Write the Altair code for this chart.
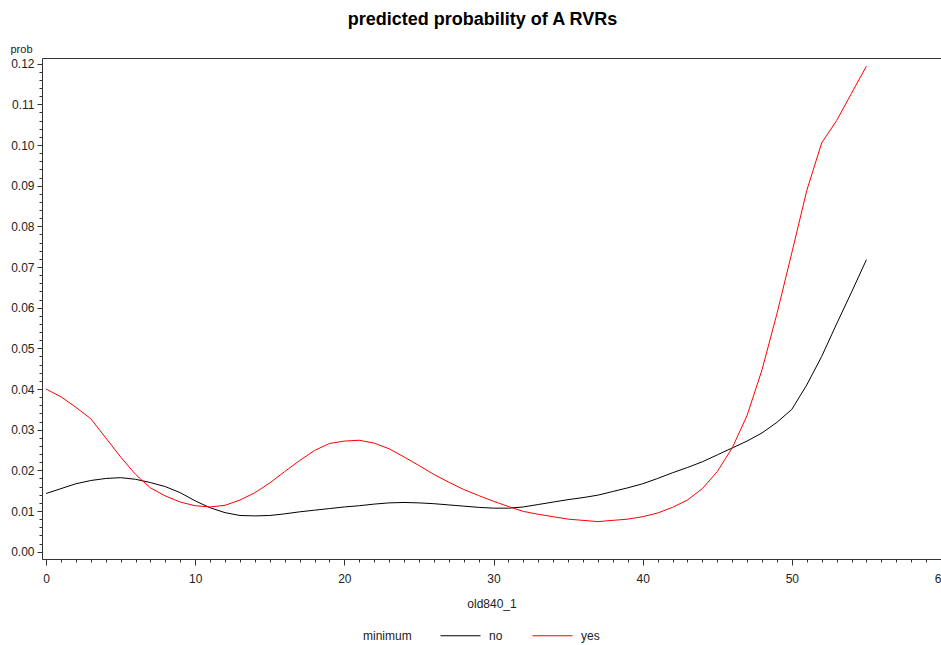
import altair as alt
import pandas as pd

FONT = "Liberation Sans"

x_vals = list(range(0, 56))
no_vals = [0.0143, 0.0155, 0.0167, 0.0175, 0.0180, 0.0182, 0.0178, 0.0170, 0.0160, 0.0145,
           0.0125, 0.0108, 0.0096, 0.0089, 0.0088, 0.0089, 0.0093, 0.0098, 0.0102, 0.0106,
           0.0110, 0.0113, 0.0117, 0.0120, 0.0121, 0.0120, 0.0118, 0.0115, 0.0112, 0.0109,
           0.0107, 0.0107, 0.0110, 0.0116, 0.0122, 0.0128, 0.0133, 0.0139, 0.0148, 0.0157,
           0.0167, 0.0180, 0.0194, 0.0207, 0.0221, 0.0238, 0.0255, 0.0272, 0.0292, 0.0318,
           0.0350, 0.0410, 0.0480, 0.0560, 0.0638, 0.0718]
yes_vals = [0.0400, 0.0381, 0.0355, 0.0327, 0.0280, 0.0233, 0.0190, 0.0157, 0.0137, 0.0122,
            0.0113, 0.0110, 0.0114, 0.0127, 0.0145, 0.0169, 0.0197, 0.0224, 0.0249, 0.0266,
            0.0272, 0.0274, 0.0267, 0.0253, 0.0233, 0.0212, 0.0190, 0.0171, 0.0153, 0.0138,
            0.0124, 0.0111, 0.0099, 0.0092, 0.0086, 0.0080, 0.0077, 0.0074, 0.0077, 0.0080,
            0.0086, 0.0095, 0.0109, 0.0127, 0.0155, 0.0197, 0.0255, 0.0335, 0.0447, 0.0585,
            0.0735, 0.0888, 0.1005, 0.1060, 0.1127, 0.1194]
groups = ["no", "yes"]
colors = ["#000000", "#ff0000"]

y_major = [round(0.01 * i, 2) for i in range(13)]
y_minor = [round(0.002 * i, 3) for i in range(61)]
x_major = [0, 10, 20, 30, 40, 50, 60]
x_minor = list(range(0, 61))

df = pd.DataFrame({
    "old840_1": x_vals + x_vals,
    "prob": no_vals + yes_vals,
    "minimum": [groups[0]] * len(x_vals) + [groups[1]] * len(x_vals),
})

xscale = alt.Scale(domain=[-0.27, 60], nice=False, zero=False)
yscale = alt.Scale(domain=[-0.0018, 0.1214], nice=False, zero=False)

base = alt.Chart(df)

minor = base.mark_point(opacity=0).encode(
    x=alt.X("old840_1:Q", scale=xscale, title=None,
            axis=alt.Axis(values=x_minor, labels=False, tickSize=3, domain=False,
                          grid=False, orient="bottom", tickColor="#333")),
    y=alt.Y("prob:Q", scale=yscale, title=None,
            axis=alt.Axis(values=y_minor, labels=False, tickSize=3, domain=False,
                          grid=False, orient="left", tickColor="#333")),
)

frame_top = base.mark_point(opacity=0).encode(
    x=alt.X("old840_1:Q", scale=xscale, title=None,
            axis=alt.Axis(labels=False, ticks=False, domain=True, grid=False,
                          orient="top", domainColor="#333")),
    y=alt.Y("prob:Q", scale=yscale, axis=None),
)

lines = base.mark_line(strokeWidth=1).encode(
    x=alt.X("old840_1:Q", scale=xscale,
            axis=alt.Axis(values=x_major, format="d", tickSize=6, labelFlush=False,
                          labelPadding=8, title="old840_1", titlePadding=14, grid=False,
                          orient="bottom", domainColor="#333", tickColor="#333",
                          labelColor="#222", titleColor="#222", labelFont=FONT,
                          titleFont=FONT, labelFontSize=12, titleFontSize=12,
                          titleFontWeight="normal")),
    y=alt.Y("prob:Q", scale=yscale,
            axis=alt.Axis(values=y_major, format=".2f", tickSize=5, labelPadding=3,
                          title="prob", titleAngle=0, titleX=-32, titleY=-6,
                          titleAlign="left", titleBaseline="alphabetic", grid=False,
                          orient="left", domainColor="#333", tickColor="#333",
                          labelColor="#222", titleColor="#222", labelFont=FONT,
                          titleFont=FONT, labelFontSize=12, titleFontSize=11,
                          titleFontWeight="normal")),
    color=alt.Color("minimum:N", scale=alt.Scale(domain=groups, range=colors),
                    legend=alt.Legend(orient="none", legendX=321, legendY=557,
                                      direction="horizontal", titleOrient="left",
                                      titleAnchor="middle", titleBaseline="line-top",
                                      titleLineHeight=18,
                                      padding=0,
                                      symbolType="stroke", symbolSize=1600,
                                      symbolStrokeWidth=1, labelFont=FONT,
                                      titleFont=FONT, labelFontSize=12,
                                      titleFontSize=12, titleFontWeight="normal",
                                      labelColor="#222", titleColor="#222",
                                      columnPadding=27, titlePadding=28,
                                      labelOffset=8)),
)

chart = alt.layer(minor, frame_top, lines).resolve_axis(x="independent", y="independent").properties(
    width=899,
    height=501,
    autosize=alt.AutoSizeParams(type="none"),
    padding={"left": 42, "top": 58, "right": 0, "bottom": 86},
    title=alt.TitleParams("predicted probability of A RVRs", fontSize=18,
                          fontWeight="bold", font=FONT, anchor="middle",
                          baseline="alphabetic", offset=0, dx=-9, color="#000"),
).configure_view(strokeWidth=0).configure(background="white")

chart.save("out.html", embed_options={"renderer": "svg", "actions": False})
